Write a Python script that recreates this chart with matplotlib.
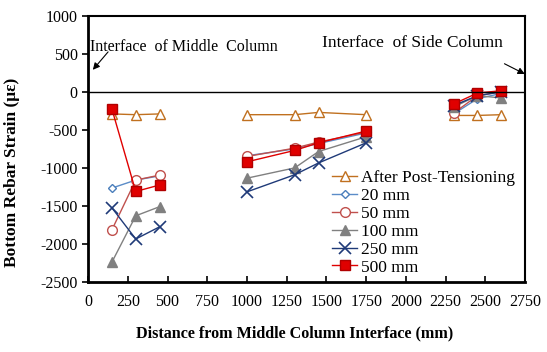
import numpy as np
import matplotlib.pyplot as plt

plt.rcParams['font.family'] = ['Liberation Serif', 'DejaVu Serif']
plt.rcParams['axes.unicode_minus'] = False

# distance from middle column interface (mm), nan breaks the three gauge groups
distance = [150, 300, 450, np.nan, 1000, 1300, 1450, 1750, np.nan, 2300, 2450, 2600]

after_pt = [-290, -300, -290, np.nan, -300, -300, -270, -300, np.nan, -310, -310, -300]
s20 = [-1265, -1160, -1105, np.nan, -840, -750, -680, -540, np.nan, -290, -90, -20]
s50 = [-1815, -1160, -1095, np.nan, -850, -740, -660, -530, np.nan, -280, -50, 0]
s100 = [-2240, -1630, -1510, np.nan, -1135, -1000, -785, -590, np.nan, -200, -50, -80]
s250 = [-1525, -1935, -1775, np.nan, -1315, -1090, -935, -670, np.nan, -180, -50, 0]
s500 = [-225, -1310, -1225, np.nan, -920, -770, -670, -515, np.nan, -160, -15, 15]

fig = plt.figure(figsize=(5.47, 3.52), dpi=100)
ax = fig.add_axes([0.161, 0.199, 0.799, 0.756])

ax.plot(distance, after_pt, '-^', color='#C0701F', mfc='white', mec='#C0701F', ms=7, lw=1, label='After Post-Tensioning')
ax.plot(distance, s20, '-D', color='#5B8CC8', mfc='white', mec='#4A7EBB', ms=4.5, lw=1, label='20 mm')
ax.plot(distance, s50, '-o', color='#C0504D', mfc='white', mec='#C0504D', ms=7, lw=1, label='50 mm')
ax.plot(distance, s100, '-^', color='#808080', mfc='#808080', mec='#808080', ms=7, lw=1, label='100 mm')
ax.plot(distance, s250, '-x', color='#1F3A78', ms=8, mew=1.2, lw=1, label='250 mm')
ax.plot(distance, s500, '-s', color='#E00000', mfc='#E00000', mec='#B00000', ms=6.5, lw=1, label='500 mm')

ax.axhline(0, color='black', lw=1)

ax.set_xlim(0, 2750)
ax.set_ylim(-2500, 1000)
ax.set_xticks(np.arange(0, 2751, 250))
ax.set_yticks(np.arange(-2500, 1001, 500))
ax.tick_params(labelsize=11.5, length=4, width=1.2)
ax.tick_params(axis='x', direction='in', pad=9)
ax.tick_params(axis='y', direction='out')
for side in ['left', 'bottom']:
    ax.spines[side].set_linewidth(2)
for side in ['top', 'right']:
    ax.spines[side].set_linewidth(1.5)

ax.set_xlabel('Distance from Middle Column Interface (mm)', fontsize=11.6, fontweight='bold')
ax.xaxis.set_label_coords(0.472, -0.165)
ax.set_ylabel('Bottom Rebar Strain (με)', fontsize=12.5, fontweight='bold')
ax.yaxis.set_label_coords(-0.155, 0.41)

ax.text(15, 590, 'Interface  of Middle  Column', fontsize=11.5, ha='left', va='center')
ax.annotate('', xy=(30, 290), xytext=(126, 526),
            arrowprops=dict(arrowstyle='-|>', color='black', lw=0.8, shrinkA=0, shrinkB=0))
ax.text(1475, 640, 'Interface  of Side Column', fontsize=12.5, ha='left', va='center')
ax.annotate('', xy=(2748, 235), xytext=(2620, 370),
            arrowprops=dict(arrowstyle='-|>', color='black', lw=0.8, shrinkA=0, shrinkB=0))

ax.legend(loc='lower right', bbox_to_anchor=(1.0, -0.015), frameon=False, fontsize=12.5,
          handlelength=1.45, labelspacing=0.1, handletextpad=0.2, borderaxespad=0.2)

fig.savefig('out.png', dpi=100)
